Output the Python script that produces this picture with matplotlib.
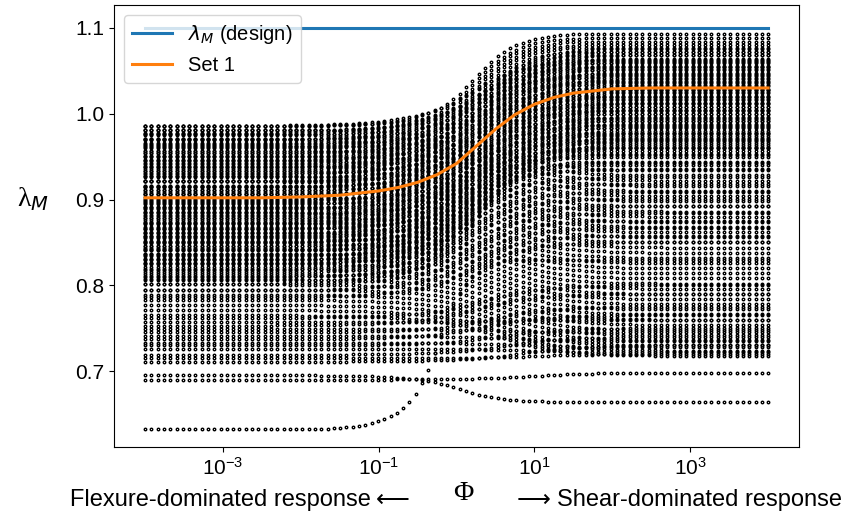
import numpy as np
import matplotlib
matplotlib.use('Agg')
import matplotlib.pyplot as plt
from matplotlib.ticker import NullLocator

plt.rcParams['font.family'] = ['Liberation Sans', 'DejaVu Sans']

# sampling grid of the parametric study (log-spaced Phi)
phi = np.logspace(-4, 4, 100)

# design value
lam_design = 1.1
design_phi = [1e-4, 1e4]

# Set 1
set1_logphi = [-4, -3.5, -3, -2.5, -2, -1.5, -1, -0.75, -0.5, -0.25, 0, 0.25,
               0.5, 0.75, 1, 1.25, 1.5, 2, 2.5, 3, 3.5, 4]
set1_lam = [0.902, 0.902, 0.902, 0.902, 0.903, 0.905, 0.910, 0.914, 0.920,
            0.929, 0.942, 0.962, 0.982, 0.999, 1.011, 1.019, 1.024, 1.029,
            1.030, 1.030, 1.030, 1.030]
set1_centre = 0.28

# other parameter sets: value at flexure end, value at shear end,
# centre of transition (log10 Phi) and width of transition
rise_start = [0.806, 0.811, 0.816, 0.821, 0.826, 0.831, 0.836, 0.841, 0.846,
              0.851, 0.856, 0.861, 0.866, 0.871, 0.876, 0.881, 0.886, 0.891,
              0.896, 0.901, 0.906, 0.911, 0.916, 0.921, 0.926, 0.931, 0.936,
              0.941, 0.946, 0.951, 0.956, 0.961, 0.966, 0.971, 0.976, 0.981,
              0.986]
rise_end = [0.940, 0.944, 0.949, 0.953, 0.957, 0.961, 0.966, 0.970, 0.974,
            0.978, 0.983, 0.987, 0.991, 0.995, 1.000, 1.004, 1.008, 1.012,
            1.017, 1.021, 1.025, 1.029, 1.034, 1.038, 1.042, 1.046, 1.051,
            1.055, 1.059, 1.063, 1.068, 1.072, 1.077, 1.080, 1.084, 1.088,
            1.093]

upper_start = [0.830, 0.835, 0.841, 0.846, 0.852, 0.857, 0.862, 0.868, 0.873,
               0.879, 0.884, 0.889, 0.895, 0.900, 0.906, 0.911, 0.916, 0.922,
               0.927, 0.933, 0.938, 0.943, 0.949, 0.954, 0.960, 0.965, 0.970,
               0.976, 0.981, 0.986]
upper_end = [0.960, 0.964, 0.968, 0.972, 0.976, 0.980, 0.984, 0.988, 0.992,
             0.996, 1.000, 1.004, 1.008, 1.012, 1.016, 1.020, 1.024, 1.028,
             1.032, 1.036, 1.040, 1.044, 1.048, 1.052, 1.056, 1.060, 1.064,
             1.068, 1.072, 1.076]

mid_start = [0.786, 0.794, 0.802, 0.810, 0.818, 0.826, 0.834, 0.842, 0.850,
             0.858, 0.866, 0.874, 0.882, 0.890, 0.898, 0.906, 0.914, 0.922,
             0.930, 0.938, 0.946, 0.954, 0.962, 0.970, 0.978, 0.986]
mid_end = [0.850, 0.858, 0.867, 0.875, 0.884, 0.892, 0.901, 0.909, 0.918,
           0.926, 0.935, 0.943, 0.952, 0.960, 0.969, 0.977, 0.986, 0.994,
           1.003, 1.011, 1.020, 1.028, 1.037, 1.045, 1.054, 1.062]

fall_start = [0.765, 0.771, 0.777, 0.783, 0.789, 0.795, 0.801, 0.807, 0.813,
              0.819, 0.825, 0.831, 0.837, 0.843, 0.849, 0.855, 0.861, 0.867,
              0.873, 0.879, 0.885, 0.891, 0.897, 0.903, 0.909, 0.915, 0.921,
              0.927, 0.933, 0.939, 0.945, 0.951, 0.957, 0.963, 0.969, 0.975,
              0.981]
fall_end = [0.718, 0.724, 0.730, 0.736, 0.742, 0.748, 0.754, 0.760, 0.766,
            0.772, 0.778, 0.784, 0.790, 0.796, 0.802, 0.808, 0.814, 0.820,
            0.826, 0.832, 0.838, 0.844, 0.850, 0.856, 0.862, 0.868, 0.874,
            0.880, 0.886, 0.892, 0.898, 0.904, 0.910, 0.916, 0.922, 0.928,
            0.934]

low_start = [0.762, 0.757, 0.753, 0.749, 0.745, 0.741, 0.737, 0.733, 0.730,
             0.726, 0.719, 0.715, 0.711, 0.695, 0.690, 0.633]
low_end = [0.800, 0.760, 0.790, 0.745, 0.775, 0.735, 0.765, 0.728, 0.750,
           0.722, 0.740, 0.720, 0.730, 0.664, 0.698, 0.830]
low_centre = [0.3, 0.5, 0.2, 0.6, 0.4, 0.7, 0.3, 0.8, 0.5, 0.9, 0.6, 1.0, 0.8,
              0.0, 0.9, -0.25]
low_width = [1.0, 1.0, 1.0, 1.0, 1.0, 1.0, 1.0, 1.0, 1.0, 1.0, 1.0, 1.0, 1.0,
             0.7, 1.0, 0.5]

# collect every parameter set
starts = rise_start + upper_start + mid_start + fall_start + low_start
ends = rise_end + upper_end + mid_end + fall_end + low_end
centres = [0.2] * len(rise_start) + [0.4] * len(upper_start) + \
    [0.15] * len(mid_start) + [0.5] * len(fall_start) + low_centre
widths = [0.7] * len(rise_start) + [0.8] * len(upper_start) + \
    [0.9] * len(mid_start) + [1.0] * len(fall_start) + low_width

# transition shape taken from Set 1
profile = (np.array(set1_lam) - set1_lam[0]) / (set1_lam[-1] - set1_lam[0])

fig = plt.figure(figsize=(8.44, 5.18), dpi=100)
ax = fig.add_axes([0.135, 0.137, 0.812, 0.853])

logphi = np.log10(phi)
for a, b, c, w in zip(starts, ends, centres, widths):
    u = (logphi - c) / w + set1_centre
    lam = a + (b - a) * np.interp(u, set1_logphi, profile)
    ax.plot(phi, lam, 'o', ms=1.8, mfc='none', mec='k', mew=1.0, zorder=1)

ax.plot(design_phi, [lam_design, lam_design], color='#1f77b4', lw=2.2,
        label=r'$\lambda_M$ (design)', zorder=3)
ax.plot(10 ** np.array(set1_logphi), set1_lam, color='#ff7f0e', lw=2.2,
        label='Set 1', zorder=3)

ax.set_xscale('log')
ax.set_xlim(10 ** -4.4, 10 ** 4.4)
ax.set_ylim(0.6115, 1.1265)
ax.set_xticks([1e-3, 1e-1, 1e1, 1e3])
ax.xaxis.set_minor_locator(NullLocator())
ax.set_yticks([0.7, 0.8, 0.9, 1.0, 1.1])
ax.tick_params(labelsize=15)

ax.legend(loc='upper left', fontsize=14.5)

ax.set_ylabel('λ$_M$', rotation=0, fontsize=20,
              family=['Liberation Serif', 'DejaVu Serif'])
ax.yaxis.set_label_coords(-0.118, 0.53)

row = 1 - 500 / 518
fig.text(371 / 844, row, 'Flexure-dominated response', ha='right',
         va='center', fontsize=17)
fig.text(376 / 844, row, '⟵', ha='left', va='center', fontsize=17,
         family=['DejaVu Sans'])
fig.text(463 / 844, 1 - 494 / 518, 'Φ', ha='center', va='center',
         fontsize=20, family=['Liberation Serif', 'DejaVu Serif'])
fig.text(517 / 844, row, '⟶', ha='left', va='center', fontsize=17,
         family=['DejaVu Sans'])
fig.text(557 / 844, row, 'Shear-dominated response', ha='left',
         va='center', fontsize=17)

fig.savefig('out.png', dpi=100)
